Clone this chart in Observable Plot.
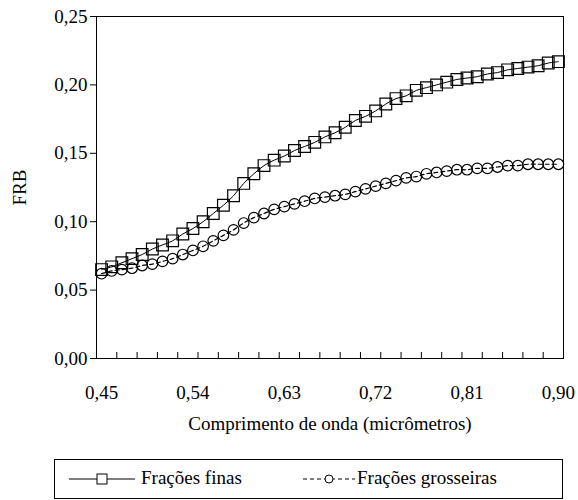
<!DOCTYPE html>
<html><head><meta charset="utf-8">
<script src="https://cdn.jsdelivr.net/npm/d3@7"></script>
<script src="https://cdn.jsdelivr.net/npm/@observablehq/plot@0.6"></script>
<style>
body{margin:0;background:#fff;font-family:"Liberation Serif","Times New Roman",serif;}
#wrap{position:relative;width:578px;height:500px;overflow:hidden;}
#legend{position:absolute;left:54px;top:459px;width:509px;height:40px;border:1px solid #000;box-sizing:border-box;font-size:19px;color:#000;}
#legend .sym{position:absolute;top:13px;}
#legend .lab{position:absolute;top:7px;line-height:22px;white-space:nowrap;}
</style></head><body><div id="wrap"><div id="chart"></div><div id="legend"></div></div>
<script>
const wavelengths = [0.45,0.46,0.47,0.48,0.49,0.50,0.51,0.52,0.53,0.54,0.55,0.56,0.57,0.58,0.59,0.60,0.61,0.62,0.63,0.64,0.65,0.66,0.67,0.68,0.69,0.70,0.71,0.72,0.73,0.74,0.75,0.76,0.77,0.78,0.79,0.80,0.81,0.82,0.83,0.84,0.85,0.86,0.87,0.88,0.89,0.90];
const xTickValues = [0.45,0.54,0.63,0.72,0.81,0.90];
const xTickLabels = ["0,45","0,54","0,63","0,72","0,81","0,90"];
const yTickValues = [0,0.05,0.10,0.15,0.20,0.25];
const yTickLabels = ["0,00","0,05","0,10","0,15","0,20","0,25"];
const seriesNames = ["Frações finas","Frações grosseiras"];
const finas = [0.065,0.067,0.070,0.073,0.076,0.080,0.083,0.086,0.091,0.095,
  0.100,0.106,0.112,0.119,0.128,0.135,0.141,0.145,0.148,0.152,
  0.155,0.158,0.162,0.165,0.169,0.174,0.177,0.181,0.186,0.190,
  0.192,0.196,0.198,0.200,0.202,0.204,0.205,0.206,0.208,0.209,
  0.211,0.212,0.213,0.214,0.216,0.217];
const grosseiras = [0.062,0.064,0.065,0.066,0.068,0.069,0.071,0.073,0.076,0.079,
  0.082,0.086,0.090,0.094,0.099,0.103,0.106,0.109,0.111,0.113,
  0.115,0.117,0.118,0.119,0.120,0.122,0.124,0.126,0.128,0.130,
  0.132,0.133,0.135,0.136,0.137,0.138,0.138,0.139,0.139,0.140,
  0.141,0.141,0.142,0.142,0.142,0.142];

const fin = wavelengths.map((w,i)=>({w, v: finas[i], s: seriesNames[0]}));
const gro = wavelengths.map((w,i)=>({w, v: grosseiras[i], s: seriesNames[1]}));
const half = (wavelengths[1]-wavelengths[0])/2;
const minorTicks = wavelengths.filter((_, i)=>i%2===0).map(w=>w-half).concat([wavelengths[wavelengths.length-1]+half]);
const xFmt = d => xTickLabels[xTickValues.findIndex(t=>Math.abs(t-d)<1e-9)];
const yFmt = d => yTickLabels[yTickValues.findIndex(t=>Math.abs(t-d)<1e-9)];

const H = 445, MT = 16, MB = 87;
const chart = Plot.plot({
  width: 578, height: H, marginLeft: 96, marginRight: 15, marginTop: MT, marginBottom: MB,
  style: {fontFamily: "'Liberation Serif','Times New Roman',serif", fontSize: "19px", color: "#000", background: "#fff", overflow: "visible"},
  x: {domain: [wavelengths[0]-half, wavelengths[wavelengths.length-1]+half]},
  y: {domain: [0, 0.25]},
  marks: [
    Plot.frame({stroke: "#000", strokeWidth: 1}),
    Plot.axisY({ticks: yTickValues, tickFormat: yFmt, tickSize: 6, tickPadding: 3, label: "FRB", labelAnchor: "center", labelArrow: "none", labelOffset: 84}),
    Plot.axisX({ticks: xTickValues, tickFormat: xFmt, tickSize: 0, tickPadding: 27, label: "Comprimento de onda (micrômetros)", labelAnchor: "center", labelArrow: "none", labelOffset: 71}),
    Plot.tickX(minorTicks, {x: d=>d, insetTop: H-MT-MB-6, stroke: "#000", strokeWidth: 1}),
    Plot.line(fin, {x: "w", y: "v", stroke: "#000", strokeWidth: 1, curve: "catmull-rom"}),
    Plot.dot(fin, {x: "w", y: "v", symbol: "square", r: 6.6, stroke: "#000", strokeWidth: 1.2, fill: "none"}),
    Plot.line(gro, {x: "w", y: "v", stroke: "#000", strokeWidth: 1.2, strokeDasharray: "4,3", curve: "catmull-rom"}),
    Plot.dot(gro, {x: "w", y: "v", symbol: "circle", r: 5.3, stroke: "#000", strokeWidth: 1.2, fill: "none"})
  ]
});
document.getElementById("chart").appendChild(chart);

const legend = document.getElementById("legend");
legend.innerHTML =
  `<svg class="sym" style="left:14px" width="66" height="12"><line x1="0" y1="6" x2="66" y2="6" stroke="#000"/><rect x="28" y="1" width="10" height="10" fill="#fff" stroke="#000"/></svg>` +
  `<span class="lab" style="left:86px">${seriesNames[0]}</span>` +
  `<svg class="sym" style="left:248px" width="52" height="12"><line x1="0" y1="6" x2="52" y2="6" stroke="#000" stroke-dasharray="4,3"/><circle cx="26" cy="6" r="4" fill="#fff" stroke="#000"/></svg>` +
  `<span class="lab" style="left:302px">${seriesNames[1]}</span>`;
</script>
</body></html>
